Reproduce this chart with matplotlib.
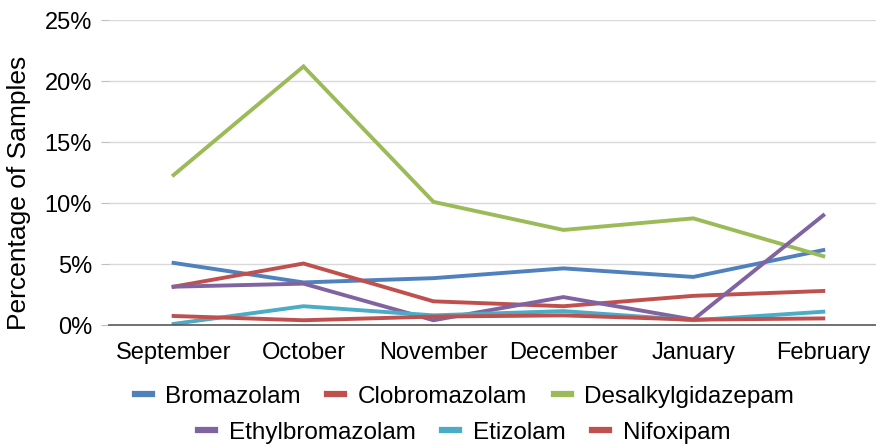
import matplotlib.pyplot as plt
from matplotlib.ticker import PercentFormatter

plt.rcParams['font.family'] = ['Liberation Sans', 'DejaVu Sans']

months = ['September', 'October', 'November', 'December', 'January', 'February']
bromazolam = [5.1, 3.5, 3.85, 4.65, 3.95, 6.15]
clobromazolam = [3.15, 5.05, 1.95, 1.55, 2.4, 2.8]
desalkylgidazepam = [12.3, 21.2, 10.1, 7.8, 8.75, 5.65]
ethylbromazolam = [3.15, 3.4, 0.4, 2.3, 0.45, 9.0]
etizolam = [0.1, 1.55, 0.8, 1.15, 0.4, 1.1]
nifoxipam = [0.75, 0.4, 0.7, 0.8, 0.45, 0.55]

series = [
    ('Bromazolam', bromazolam, '#4F81BD'),
    ('Clobromazolam', clobromazolam, '#C0504D'),
    ('Desalkylgidazepam', desalkylgidazepam, '#9BBB59'),
    ('Ethylbromazolam', ethylbromazolam, '#8064A2'),
    ('Etizolam', etizolam, '#4BACC6'),
    ('Nifoxipam', nifoxipam, '#C0504D'),
]

fig = plt.figure(figsize=(8.76, 4.46), dpi=100)
ax = fig.add_axes([0.124, 0.271, 0.89, 0.684])

x = range(len(months))
handles = []
for name, vals, col in series:
    h, = ax.plot(x, vals, color=col, lw=2.8, label=name, solid_joinstyle='miter')
    handles.append(h)

ax.set_xlim(-0.5, 5.5)
ax.set_ylim(0, 25)
ax.set_yticks([0, 5, 10, 15, 20, 25])
ax.yaxis.set_major_formatter(PercentFormatter(decimals=0))
ax.set_xticks(list(x))
ax.set_xticklabels(months)
ax.tick_params(axis='x', length=0, labelsize=17, pad=12)
ax.tick_params(axis='y', length=6, color='#BFBFBF', labelsize=17, pad=6)
ax.grid(axis='y', color='#D9D9D9', lw=1)
ax.set_axisbelow(True)
for s in ['top', 'right', 'left']:
    ax.spines[s].set_visible(False)
ax.spines['bottom'].set_color('#595959')
ax.spines['bottom'].set_linewidth(1.2)
ax.set_ylabel('Percentage of Samples', fontsize=19)
ax.yaxis.set_label_coords(-0.099, 0.433)

kw = dict(loc='center', ncol=3, frameon=False, fontsize=17.5, handlelength=0.7,
          columnspacing=1.1, handletextpad=0.55)
leg1 = fig.legend(handles=handles[:3], bbox_to_anchor=(0.53, 0.11), **kw)
for h in leg1.legend_handles:
    h.set_linewidth(4.5)
leg2 = fig.legend(handles=handles[3:], bbox_to_anchor=(0.53, 0.03), **kw)
for h in leg2.legend_handles:
    h.set_linewidth(4.5)

fig.savefig('out.png', dpi=100)
